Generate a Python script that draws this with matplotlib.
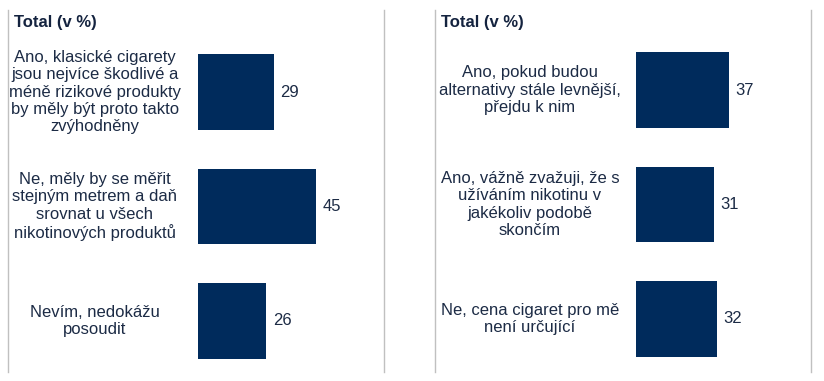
import matplotlib.pyplot as plt
from matplotlib.lines import Line2D
from matplotlib.transforms import blended_transform_factory

plt.rcParams['font.family'] = ['Liberation Sans', 'DejaVu Sans']

# data
title = "Total (v %)"
left_labels = [
    "Ano, klasické cigarety\njsou nejvíce škodlivé a\nméně rizikové produkty\nby měly být proto takto\nzvýhodněny",
    "Ne, měly by se měřit\nstejným metrem a daň\nsrovnat u všech\nnikotinových produktů",
    "Nevím, nedokážu\nposoudit",
]
left_values = [29, 45, 26]
right_labels = [
    "Ano, pokud budou\nalternativy stále levnější,\npřejdu k nim",
    "Ano, vážně zvažuji, že s\nužíváním nikotinu v\njakékoliv podobě\nskončím",
    "Ne, cena cigaret pro mě\nnení určující",
]
right_values = [37, 31, 32]

bar_color = "#002B5C"
text_color = "#1C2B45"
line_color = "#C0C0C0"

W, H = 824, 381
fig = plt.figure(figsize=(W / 100, H / 100), dpi=100)


def panel(x0, scale, top, labels, values, label_x, line_xs):
    # axes spans 343 px vertically, categories spaced 114.5 px
    width = 180
    ax = fig.add_axes([x0 / W, (H - top - 343) / H, width / W, 343 / H])
    ax.set_xlim(0, width / scale)
    ax.set_ylim(2.5, -0.5)
    ax.barh(range(len(values)), values, height=0.66, color=bar_color)
    for i, v in enumerate(values):
        ax.annotate(str(v), (v, i), xytext=(4.5, 0), textcoords="offset points",
                    va="center", ha="left", fontsize=12, color=text_color)
    tr = blended_transform_factory(fig.transFigure, ax.transData)
    for i, lab in enumerate(labels):
        ax.text(label_x / W, i, lab, transform=tr, ha="center", va="center",
                multialignment="center", fontsize=12, color=text_color,
                linespacing=1.2)
    ax.axis("off")
    for lx in line_xs:
        fig.add_artist(Line2D([lx / W, lx / W], [(H - 10) / H, (H - 372) / H],
                              color=line_color, lw=1))
    fig.text((line_xs[0] + 6) / W, (H - 23) / H, title, fontsize=12,
             fontweight="bold", color="#14233F", va="center", ha="left")
    return ax


panel(198, 2.63, 35, left_labels, left_values, 95, [8, 384])
panel(636, 2.52, 33, right_labels, right_values, 530, [435, 811])

fig.savefig("out.png", dpi=100)
